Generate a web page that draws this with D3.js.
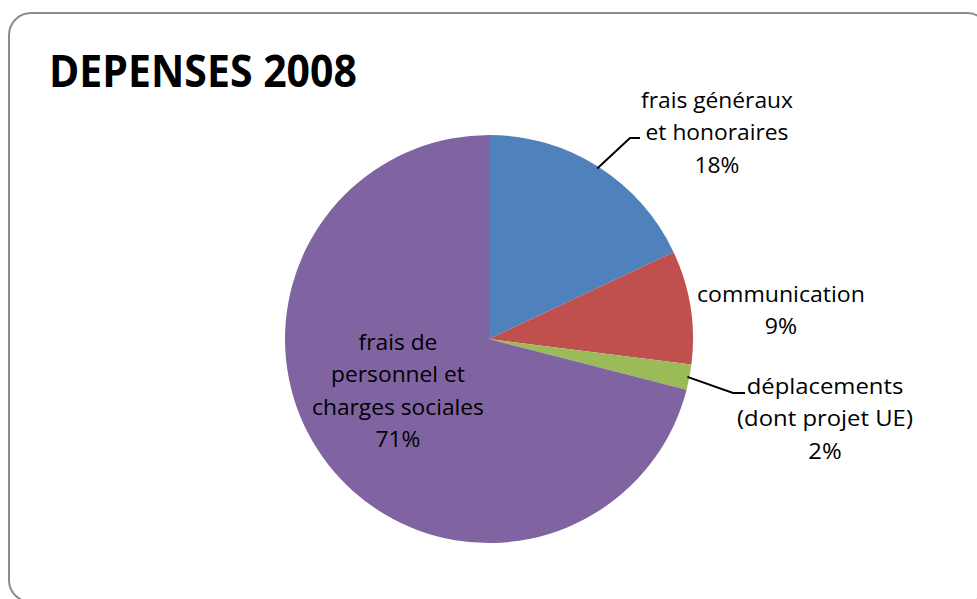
<!DOCTYPE html>
<html>
<head>
<meta charset="utf-8">
<script src="https://cdn.jsdelivr.net/npm/d3@7"></script>
<style>
  body { margin: 0; background: #fff; }
  svg { display: block; font-family: "Open Sans", sans-serif; }
</style>
</head>
<body>
<div id="chart"></div>
<script>
// data
const categories = ["frais généraux et honoraires", "communication", "déplacements (dont projet UE)", "frais de personnel et charges sociales"];
const values = [18, 9, 2, 71];
const colors = ["#4F81BD", "#C0504D", "#9BBB59", "#8064A2"];
const labelLines = [
  ["frais généraux", "et honoraires"],
  ["communication"],
  ["déplacements", "(dont projet UE)"],
  ["frais de", "personnel et", "charges sociales"]
];

const width = 977, height = 599;
const svg = d3.select("#chart").append("svg")
  .attr("width", width)
  .attr("height", height);

// frame
svg.append("rect")
  .attr("x", 9).attr("y", 13)
  .attr("width", 980).attr("height", 589)
  .attr("rx", 22).attr("ry", 22)
  .attr("fill", "#fff")
  .attr("stroke", "#8c8c8c")
  .attr("stroke-width", 2);

// squeeze a text horizontally around x0 so it reaches width w
function fitWidth(sel, x0, w) {
  const nat = sel.node().getBBox().width;
  const s = w / nat;
  sel.attr("transform", `translate(${x0},0) scale(${s},1) translate(${-x0},0)`);
}

// title
const title = svg.append("text")
  .attr("x", 49).attr("y", 87)
  .attr("font-weight", "bold")
  .attr("font-size", 45)
  .attr("fill", "#000")
  .text("DEPENSES 2008");
fitWidth(title, 49, 308);

const cx = 489, cy = 339, r = 204;
const pie = d3.pie().sort(null).value(d => d)(values);
const arc = d3.arc().innerRadius(0).outerRadius(r);

const g = svg.append("g").attr("transform", `translate(${cx},${cy})`);
g.selectAll("path")
  .data(pie)
  .enter()
  .append("path")
  .attr("d", arc)
  .attr("fill", (d, i) => colors[i]);

// leader lines for blue and green slices
const leaders = [
  { i: 0, bend: [141, -201], end: [151, -201] },
  { i: 2, bend: [244, 54], end: [256, 54] }
];
leaders.forEach(l => {
  const a = (pie[l.i].startAngle + pie[l.i].endAngle) / 2;
  const p = [Math.sin(a) * (r - 2), -Math.cos(a) * (r - 2)];
  g.append("polyline")
    .attr("points", [p, l.bend, l.end].map(q => q.join(",")).join(" "))
    .attr("fill", "none")
    .attr("stroke", "#000")
    .attr("stroke-width", 2);
});

// labels: center x, first baseline y, width of the widest line
const labelPos = [[717, 108, 152], [781, 302, 168], [825, 394, 176], [398, 350, 172]];
const lineH = 32.5;

labelLines.forEach((lines, i) => {
  const t = svg.append("text")
    .attr("text-anchor", "middle")
    .attr("font-size", 21)
    .attr("fill", "#000");
  const all = lines.concat([values[i] + "%"]);
  all.forEach((s, k) => {
    t.append("tspan")
      .attr("x", labelPos[i][0])
      .attr("y", labelPos[i][1] + k * lineH)
      .text(s);
  });
  fitWidth(t, labelPos[i][0], labelPos[i][2]);
});
</script>
</body>
</html>
